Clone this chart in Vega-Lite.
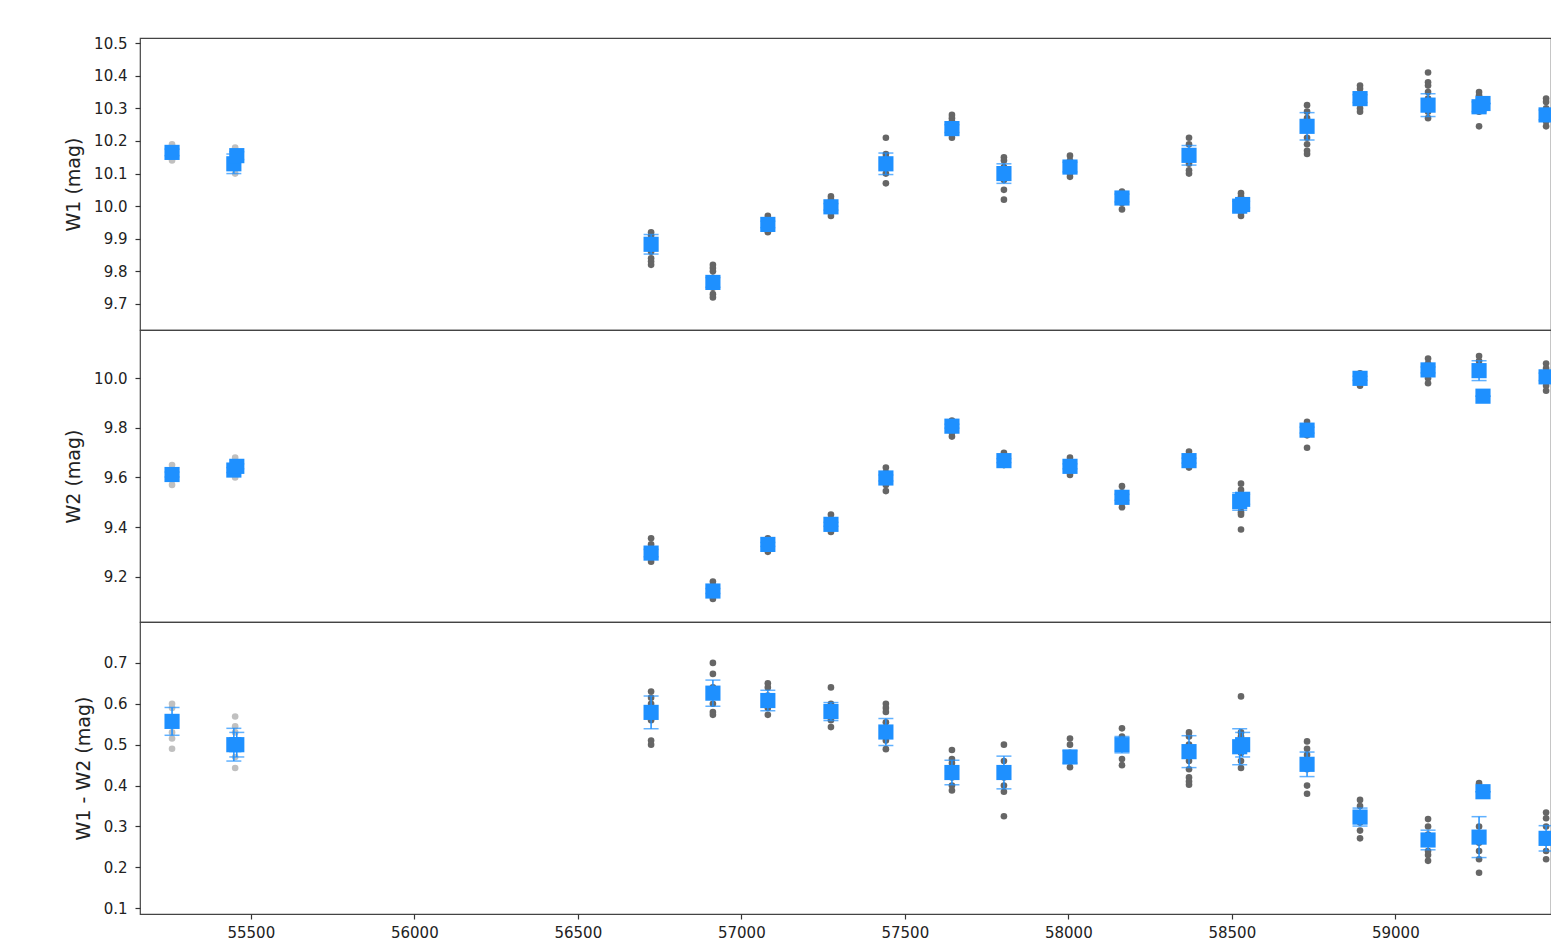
{
"$schema": "https://vega.github.io/schema/vega-lite/v6.json",
"padding": {"left": 64, "top": 35, "right": 0, "bottom": 4},
"spacing": 0,
"bounds": "flush",
"background": "white",
"config": {
  "view": {"stroke": "#444444", "strokeWidth": 1.2},
  "axis": {"labelFont": "DejaVu Sans", "labelFontSize": 15, "labelColor": "#222222", "titleFont": "DejaVu Sans", "titleFontSize": 19, "titleFontWeight": "normal", "titleColor": "#222222", "tickColor": "#333333", "tickSize": 5, "tickWidth": 1.2, "domain": false, "grid": false, "labelPadding": 8, "titlePadding": 10, "labelOverlap": false}
},
"datasets": {
"gray": [
{"b":"W1","t":55259,"v":10.19,"c":"old"},{"b":"W1","t":55259,"v":10.18,"c":"old"},{"b":"W1","t":55259,"v":10.17,"c":"old"},{"b":"W1","t":55259,"v":10.16,"c":"old"},{"b":"W1","t":55259,"v":10.15,"c":"old"},{"b":"W1","t":55259,"v":10.14,"c":"old"},
{"b":"W1","t":55452,"v":10.18,"c":"old"},{"b":"W1","t":55452,"v":10.17,"c":"old"},{"b":"W1","t":55452,"v":10.16,"c":"old"},{"b":"W1","t":55452,"v":10.14,"c":"old"},{"b":"W1","t":55452,"v":10.12,"c":"old"},{"b":"W1","t":55452,"v":10.10,"c":"old"},
{"b":"W1","t":56724,"v":9.92,"c":"new"},{"b":"W1","t":56724,"v":9.91,"c":"new"},{"b":"W1","t":56724,"v":9.90,"c":"new"},{"b":"W1","t":56724,"v":9.88,"c":"new"},{"b":"W1","t":56724,"v":9.86,"c":"new"},{"b":"W1","t":56724,"v":9.84,"c":"new"},{"b":"W1","t":56724,"v":9.83,"c":"new"},{"b":"W1","t":56724,"v":9.82,"c":"new"},
{"b":"W1","t":56913,"v":9.82,"c":"new"},{"b":"W1","t":56913,"v":9.81,"c":"new"},{"b":"W1","t":56913,"v":9.80,"c":"new"},{"b":"W1","t":56913,"v":9.78,"c":"new"},{"b":"W1","t":56913,"v":9.75,"c":"new"},{"b":"W1","t":56913,"v":9.73,"c":"new"},{"b":"W1","t":56913,"v":9.72,"c":"new"},
{"b":"W1","t":57081,"v":9.97,"c":"new"},{"b":"W1","t":57081,"v":9.96,"c":"new"},{"b":"W1","t":57081,"v":9.95,"c":"new"},{"b":"W1","t":57081,"v":9.93,"c":"new"},{"b":"W1","t":57081,"v":9.92,"c":"new"},
{"b":"W1","t":57274,"v":10.03,"c":"new"},{"b":"W1","t":57274,"v":10.02,"c":"new"},{"b":"W1","t":57274,"v":10.0,"c":"new"},{"b":"W1","t":57274,"v":9.98,"c":"new"},{"b":"W1","t":57274,"v":9.97,"c":"new"},
{"b":"W1","t":57442,"v":10.21,"c":"new"},{"b":"W1","t":57442,"v":10.16,"c":"new"},{"b":"W1","t":57442,"v":10.15,"c":"new"},{"b":"W1","t":57442,"v":10.13,"c":"new"},{"b":"W1","t":57442,"v":10.12,"c":"new"},{"b":"W1","t":57442,"v":10.10,"c":"new"},{"b":"W1","t":57442,"v":10.07,"c":"new"},
{"b":"W1","t":57644,"v":10.28,"c":"new"},{"b":"W1","t":57644,"v":10.27,"c":"new"},{"b":"W1","t":57644,"v":10.26,"c":"new"},{"b":"W1","t":57644,"v":10.24,"c":"new"},{"b":"W1","t":57644,"v":10.22,"c":"new"},{"b":"W1","t":57644,"v":10.21,"c":"new"},
{"b":"W1","t":57803,"v":10.15,"c":"new"},{"b":"W1","t":57803,"v":10.14,"c":"new"},{"b":"W1","t":57803,"v":10.12,"c":"new"},{"b":"W1","t":57803,"v":10.10,"c":"new"},{"b":"W1","t":57803,"v":10.08,"c":"new"},{"b":"W1","t":57803,"v":10.05,"c":"new"},{"b":"W1","t":57803,"v":10.02,"c":"new"},
{"b":"W1","t":58005,"v":10.155,"c":"new"},{"b":"W1","t":58005,"v":10.14,"c":"new"},{"b":"W1","t":58005,"v":10.12,"c":"new"},{"b":"W1","t":58005,"v":10.10,"c":"new"},{"b":"W1","t":58005,"v":10.09,"c":"new"},
{"b":"W1","t":58164,"v":10.045,"c":"new"},{"b":"W1","t":58164,"v":10.03,"c":"new"},{"b":"W1","t":58164,"v":10.01,"c":"new"},{"b":"W1","t":58164,"v":9.99,"c":"new"},
{"b":"W1","t":58369,"v":10.21,"c":"new"},{"b":"W1","t":58369,"v":10.19,"c":"new"},{"b":"W1","t":58369,"v":10.17,"c":"new"},{"b":"W1","t":58369,"v":10.15,"c":"new"},{"b":"W1","t":58369,"v":10.13,"c":"new"},{"b":"W1","t":58369,"v":10.11,"c":"new"},{"b":"W1","t":58369,"v":10.10,"c":"new"},
{"b":"W1","t":58528,"v":10.04,"c":"new"},{"b":"W1","t":58528,"v":10.03,"c":"new"},{"b":"W1","t":58528,"v":10.02,"c":"new"},{"b":"W1","t":58528,"v":10.0,"c":"new"},{"b":"W1","t":58528,"v":9.98,"c":"new"},{"b":"W1","t":58528,"v":9.97,"c":"new"},
{"b":"W1","t":58730,"v":10.31,"c":"new"},{"b":"W1","t":58730,"v":10.29,"c":"new"},{"b":"W1","t":58730,"v":10.27,"c":"new"},{"b":"W1","t":58730,"v":10.24,"c":"new"},{"b":"W1","t":58730,"v":10.21,"c":"new"},{"b":"W1","t":58730,"v":10.19,"c":"new"},{"b":"W1","t":58730,"v":10.17,"c":"new"},{"b":"W1","t":58730,"v":10.16,"c":"new"},
{"b":"W1","t":58892,"v":10.37,"c":"new"},{"b":"W1","t":58892,"v":10.36,"c":"new"},{"b":"W1","t":58892,"v":10.34,"c":"new"},{"b":"W1","t":58892,"v":10.32,"c":"new"},{"b":"W1","t":58892,"v":10.30,"c":"new"},{"b":"W1","t":58892,"v":10.29,"c":"new"},
{"b":"W1","t":59100,"v":10.41,"c":"new"},{"b":"W1","t":59100,"v":10.38,"c":"new"},{"b":"W1","t":59100,"v":10.37,"c":"new"},{"b":"W1","t":59100,"v":10.35,"c":"new"},{"b":"W1","t":59100,"v":10.33,"c":"new"},{"b":"W1","t":59100,"v":10.31,"c":"new"},{"b":"W1","t":59100,"v":10.29,"c":"new"},{"b":"W1","t":59100,"v":10.27,"c":"new"},
{"b":"W1","t":59256,"v":10.35,"c":"new"},{"b":"W1","t":59256,"v":10.34,"c":"new"},{"b":"W1","t":59256,"v":10.33,"c":"new"},{"b":"W1","t":59256,"v":10.31,"c":"new"},{"b":"W1","t":59256,"v":10.29,"c":"new"},{"b":"W1","t":59256,"v":10.245,"c":"new"},
{"b":"W1","t":59461,"v":10.33,"c":"new"},{"b":"W1","t":59461,"v":10.32,"c":"new"},{"b":"W1","t":59461,"v":10.30,"c":"new"},{"b":"W1","t":59461,"v":10.28,"c":"new"},{"b":"W1","t":59461,"v":10.26,"c":"new"},{"b":"W1","t":59461,"v":10.245,"c":"new"},
{"b":"W2","t":55259,"v":9.65,"c":"old"},{"b":"W2","t":55259,"v":9.63,"c":"old"},{"b":"W2","t":55259,"v":9.61,"c":"old"},{"b":"W2","t":55259,"v":9.59,"c":"old"},{"b":"W2","t":55259,"v":9.57,"c":"old"},
{"b":"W2","t":55452,"v":9.68,"c":"old"},{"b":"W2","t":55452,"v":9.66,"c":"old"},{"b":"W2","t":55452,"v":9.64,"c":"old"},{"b":"W2","t":55452,"v":9.62,"c":"old"},{"b":"W2","t":55452,"v":9.60,"c":"old"},
{"b":"W2","t":56724,"v":9.355,"c":"new"},{"b":"W2","t":56724,"v":9.33,"c":"new"},{"b":"W2","t":56724,"v":9.31,"c":"new"},{"b":"W2","t":56724,"v":9.28,"c":"new"},{"b":"W2","t":56724,"v":9.26,"c":"new"},
{"b":"W2","t":56913,"v":9.18,"c":"new"},{"b":"W2","t":56913,"v":9.165,"c":"new"},{"b":"W2","t":56913,"v":9.14,"c":"new"},{"b":"W2","t":56913,"v":9.12,"c":"new"},{"b":"W2","t":56913,"v":9.11,"c":"new"},
{"b":"W2","t":57081,"v":9.355,"c":"new"},{"b":"W2","t":57081,"v":9.34,"c":"new"},{"b":"W2","t":57081,"v":9.32,"c":"new"},{"b":"W2","t":57081,"v":9.30,"c":"new"},
{"b":"W2","t":57274,"v":9.45,"c":"new"},{"b":"W2","t":57274,"v":9.43,"c":"new"},{"b":"W2","t":57274,"v":9.41,"c":"new"},{"b":"W2","t":57274,"v":9.39,"c":"new"},{"b":"W2","t":57274,"v":9.38,"c":"new"},
{"b":"W2","t":57442,"v":9.64,"c":"new"},{"b":"W2","t":57442,"v":9.62,"c":"new"},{"b":"W2","t":57442,"v":9.60,"c":"new"},{"b":"W2","t":57442,"v":9.57,"c":"new"},{"b":"W2","t":57442,"v":9.545,"c":"new"},
{"b":"W2","t":57644,"v":9.83,"c":"new"},{"b":"W2","t":57644,"v":9.82,"c":"new"},{"b":"W2","t":57644,"v":9.80,"c":"new"},{"b":"W2","t":57644,"v":9.78,"c":"new"},{"b":"W2","t":57644,"v":9.765,"c":"new"},
{"b":"W2","t":57803,"v":9.70,"c":"new"},{"b":"W2","t":57803,"v":9.68,"c":"new"},{"b":"W2","t":57803,"v":9.66,"c":"new"},{"b":"W2","t":57803,"v":9.65,"c":"new"},
{"b":"W2","t":58005,"v":9.68,"c":"new"},{"b":"W2","t":58005,"v":9.66,"c":"new"},{"b":"W2","t":58005,"v":9.64,"c":"new"},{"b":"W2","t":58005,"v":9.62,"c":"new"},{"b":"W2","t":58005,"v":9.61,"c":"new"},
{"b":"W2","t":58164,"v":9.565,"c":"new"},{"b":"W2","t":58164,"v":9.54,"c":"new"},{"b":"W2","t":58164,"v":9.52,"c":"new"},{"b":"W2","t":58164,"v":9.50,"c":"new"},{"b":"W2","t":58164,"v":9.48,"c":"new"},
{"b":"W2","t":58369,"v":9.705,"c":"new"},{"b":"W2","t":58369,"v":9.69,"c":"new"},{"b":"W2","t":58369,"v":9.67,"c":"new"},{"b":"W2","t":58369,"v":9.65,"c":"new"},{"b":"W2","t":58369,"v":9.64,"c":"new"},
{"b":"W2","t":58528,"v":9.575,"c":"new"},{"b":"W2","t":58528,"v":9.55,"c":"new"},{"b":"W2","t":58528,"v":9.52,"c":"new"},{"b":"W2","t":58528,"v":9.50,"c":"new"},{"b":"W2","t":58528,"v":9.48,"c":"new"},{"b":"W2","t":58528,"v":9.46,"c":"new"},{"b":"W2","t":58528,"v":9.45,"c":"new"},{"b":"W2","t":58528,"v":9.39,"c":"new"},
{"b":"W2","t":58730,"v":9.825,"c":"new"},{"b":"W2","t":58730,"v":9.81,"c":"new"},{"b":"W2","t":58730,"v":9.79,"c":"new"},{"b":"W2","t":58730,"v":9.77,"c":"new"},{"b":"W2","t":58730,"v":9.72,"c":"new"},
{"b":"W2","t":58892,"v":10.02,"c":"new"},{"b":"W2","t":58892,"v":10.01,"c":"new"},{"b":"W2","t":58892,"v":9.99,"c":"new"},{"b":"W2","t":58892,"v":9.97,"c":"new"},
{"b":"W2","t":59100,"v":10.08,"c":"new"},{"b":"W2","t":59100,"v":10.06,"c":"new"},{"b":"W2","t":59100,"v":10.04,"c":"new"},{"b":"W2","t":59100,"v":10.02,"c":"new"},{"b":"W2","t":59100,"v":10.0,"c":"new"},{"b":"W2","t":59100,"v":9.98,"c":"new"},
{"b":"W2","t":59256,"v":10.09,"c":"new"},{"b":"W2","t":59256,"v":10.07,"c":"new"},{"b":"W2","t":59256,"v":10.05,"c":"new"},{"b":"W2","t":59256,"v":10.03,"c":"new"},{"b":"W2","t":59256,"v":10.02,"c":"new"},
{"b":"W2","t":59461,"v":10.06,"c":"new"},{"b":"W2","t":59461,"v":10.04,"c":"new"},{"b":"W2","t":59461,"v":10.02,"c":"new"},{"b":"W2","t":59461,"v":9.99,"c":"new"},{"b":"W2","t":59461,"v":9.97,"c":"new"},{"b":"W2","t":59461,"v":9.95,"c":"new"},
{"b":"C","t":55259,"v":0.60,"c":"old"},{"b":"C","t":55259,"v":0.59,"c":"old"},{"b":"C","t":55259,"v":0.56,"c":"old"},{"b":"C","t":55259,"v":0.53,"c":"old"},{"b":"C","t":55259,"v":0.515,"c":"old"},{"b":"C","t":55259,"v":0.49,"c":"old"},
{"b":"C","t":55452,"v":0.569,"c":"old"},{"b":"C","t":55452,"v":0.545,"c":"old"},{"b":"C","t":55452,"v":0.53,"c":"old"},{"b":"C","t":55452,"v":0.49,"c":"old"},{"b":"C","t":55452,"v":0.47,"c":"old"},{"b":"C","t":55452,"v":0.443,"c":"old"},
{"b":"C","t":56724,"v":0.63,"c":"new"},{"b":"C","t":56724,"v":0.615,"c":"new"},{"b":"C","t":56724,"v":0.60,"c":"new"},{"b":"C","t":56724,"v":0.575,"c":"new"},{"b":"C","t":56724,"v":0.56,"c":"new"},{"b":"C","t":56724,"v":0.51,"c":"new"},{"b":"C","t":56724,"v":0.50,"c":"new"},
{"b":"C","t":56913,"v":0.70,"c":"new"},{"b":"C","t":56913,"v":0.673,"c":"new"},{"b":"C","t":56913,"v":0.64,"c":"new"},{"b":"C","t":56913,"v":0.62,"c":"new"},{"b":"C","t":56913,"v":0.60,"c":"new"},{"b":"C","t":56913,"v":0.58,"c":"new"},{"b":"C","t":56913,"v":0.573,"c":"new"},
{"b":"C","t":57081,"v":0.65,"c":"new"},{"b":"C","t":57081,"v":0.64,"c":"new"},{"b":"C","t":57081,"v":0.62,"c":"new"},{"b":"C","t":57081,"v":0.60,"c":"new"},{"b":"C","t":57081,"v":0.59,"c":"new"},{"b":"C","t":57081,"v":0.573,"c":"new"},
{"b":"C","t":57274,"v":0.64,"c":"new"},{"b":"C","t":57274,"v":0.60,"c":"new"},{"b":"C","t":57274,"v":0.59,"c":"new"},{"b":"C","t":57274,"v":0.57,"c":"new"},{"b":"C","t":57274,"v":0.56,"c":"new"},{"b":"C","t":57274,"v":0.543,"c":"new"},
{"b":"C","t":57442,"v":0.60,"c":"new"},{"b":"C","t":57442,"v":0.59,"c":"new"},{"b":"C","t":57442,"v":0.58,"c":"new"},{"b":"C","t":57442,"v":0.555,"c":"new"},{"b":"C","t":57442,"v":0.52,"c":"new"},{"b":"C","t":57442,"v":0.51,"c":"new"},{"b":"C","t":57442,"v":0.489,"c":"new"},
{"b":"C","t":57644,"v":0.487,"c":"new"},{"b":"C","t":57644,"v":0.465,"c":"new"},{"b":"C","t":57644,"v":0.455,"c":"new"},{"b":"C","t":57644,"v":0.44,"c":"new"},{"b":"C","t":57644,"v":0.42,"c":"new"},{"b":"C","t":57644,"v":0.40,"c":"new"},{"b":"C","t":57644,"v":0.388,"c":"new"},
{"b":"C","t":57803,"v":0.50,"c":"new"},{"b":"C","t":57803,"v":0.46,"c":"new"},{"b":"C","t":57803,"v":0.44,"c":"new"},{"b":"C","t":57803,"v":0.42,"c":"new"},{"b":"C","t":57803,"v":0.40,"c":"new"},{"b":"C","t":57803,"v":0.385,"c":"new"},{"b":"C","t":57803,"v":0.325,"c":"new"},
{"b":"C","t":58005,"v":0.515,"c":"new"},{"b":"C","t":58005,"v":0.50,"c":"new"},{"b":"C","t":58005,"v":0.48,"c":"new"},{"b":"C","t":58005,"v":0.46,"c":"new"},{"b":"C","t":58005,"v":0.445,"c":"new"},
{"b":"C","t":58164,"v":0.54,"c":"new"},{"b":"C","t":58164,"v":0.52,"c":"new"},{"b":"C","t":58164,"v":0.51,"c":"new"},{"b":"C","t":58164,"v":0.49,"c":"new"},{"b":"C","t":58164,"v":0.465,"c":"new"},{"b":"C","t":58164,"v":0.45,"c":"new"},
{"b":"C","t":58369,"v":0.53,"c":"new"},{"b":"C","t":58369,"v":0.52,"c":"new"},{"b":"C","t":58369,"v":0.50,"c":"new"},{"b":"C","t":58369,"v":0.48,"c":"new"},{"b":"C","t":58369,"v":0.46,"c":"new"},{"b":"C","t":58369,"v":0.44,"c":"new"},{"b":"C","t":58369,"v":0.42,"c":"new"},{"b":"C","t":58369,"v":0.41,"c":"new"},{"b":"C","t":58369,"v":0.402,"c":"new"},
{"b":"C","t":58528,"v":0.618,"c":"new"},{"b":"C","t":58528,"v":0.53,"c":"new"},{"b":"C","t":58528,"v":0.52,"c":"new"},{"b":"C","t":58528,"v":0.50,"c":"new"},{"b":"C","t":58528,"v":0.48,"c":"new"},{"b":"C","t":58528,"v":0.46,"c":"new"},{"b":"C","t":58528,"v":0.443,"c":"new"},
{"b":"C","t":58730,"v":0.508,"c":"new"},{"b":"C","t":58730,"v":0.49,"c":"new"},{"b":"C","t":58730,"v":0.475,"c":"new"},{"b":"C","t":58730,"v":0.44,"c":"new"},{"b":"C","t":58730,"v":0.40,"c":"new"},{"b":"C","t":58730,"v":0.38,"c":"new"},
{"b":"C","t":58892,"v":0.365,"c":"new"},{"b":"C","t":58892,"v":0.35,"c":"new"},{"b":"C","t":58892,"v":0.33,"c":"new"},{"b":"C","t":58892,"v":0.31,"c":"new"},{"b":"C","t":58892,"v":0.29,"c":"new"},{"b":"C","t":58892,"v":0.271,"c":"new"},
{"b":"C","t":59100,"v":0.318,"c":"new"},{"b":"C","t":59100,"v":0.30,"c":"new"},{"b":"C","t":59100,"v":0.28,"c":"new"},{"b":"C","t":59100,"v":0.26,"c":"new"},{"b":"C","t":59100,"v":0.24,"c":"new"},{"b":"C","t":59100,"v":0.23,"c":"new"},{"b":"C","t":59100,"v":0.216,"c":"new"},
{"b":"C","t":59256,"v":0.406,"c":"new"},{"b":"C","t":59256,"v":0.30,"c":"new"},{"b":"C","t":59256,"v":0.28,"c":"new"},{"b":"C","t":59256,"v":0.26,"c":"new"},{"b":"C","t":59256,"v":0.24,"c":"new"},{"b":"C","t":59256,"v":0.22,"c":"new"},{"b":"C","t":59256,"v":0.187,"c":"new"},
{"b":"C","t":59461,"v":0.334,"c":"new"},{"b":"C","t":59461,"v":0.32,"c":"new"},{"b":"C","t":59461,"v":0.30,"c":"new"},{"b":"C","t":59461,"v":0.28,"c":"new"},{"b":"C","t":59461,"v":0.26,"c":"new"},{"b":"C","t":59461,"v":0.24,"c":"new"},{"b":"C","t":59461,"v":0.22,"c":"new"}
],
"blue": [
{"b":"W1","t":55259,"v":10.165,"e":0.01},{"b":"W1","t":55448,"v":10.13,"e":0.03},{"b":"W1","t":55457,"v":10.155,"e":0.012},{"b":"W1","t":56724,"v":9.883,"e":0.03},{"b":"W1","t":56913,"v":9.766,"e":0.015},{"b":"W1","t":57081,"v":9.944,"e":0.01},{"b":"W1","t":57274,"v":9.998,"e":0.01},{"b":"W1","t":57442,"v":10.13,"e":0.033},{"b":"W1","t":57644,"v":10.238,"e":0.012},{"b":"W1","t":57803,"v":10.1,"e":0.03},{"b":"W1","t":58005,"v":10.12,"e":0.015},{"b":"W1","t":58164,"v":10.025,"e":0.012},{"b":"W1","t":58369,"v":10.156,"e":0.03},{"b":"W1","t":58524,"v":10.0,"e":0.015},{"b":"W1","t":58533,"v":10.005,"e":0.01},{"b":"W1","t":58730,"v":10.245,"e":0.042},{"b":"W1","t":58892,"v":10.33,"e":0.012},{"b":"W1","t":59100,"v":10.31,"e":0.035},{"b":"W1","t":59256,"v":10.305,"e":0.015},{"b":"W1","t":59268,"v":10.315,"e":0.0},{"b":"W1","t":59461,"v":10.28,"e":0.015},
{"b":"W2","t":55259,"v":9.612,"e":0.01},{"b":"W2","t":55448,"v":9.63,"e":0.01},{"b":"W2","t":55457,"v":9.645,"e":0.01},{"b":"W2","t":56724,"v":9.295,"e":0.015},{"b":"W2","t":56913,"v":9.142,"e":0.01},{"b":"W2","t":57081,"v":9.33,"e":0.008},{"b":"W2","t":57274,"v":9.411,"e":0.008},{"b":"W2","t":57442,"v":9.598,"e":0.012},{"b":"W2","t":57644,"v":9.807,"e":0.008},{"b":"W2","t":57803,"v":9.668,"e":0.008},{"b":"W2","t":58005,"v":9.645,"e":0.01},{"b":"W2","t":58164,"v":9.52,"e":0.012},{"b":"W2","t":58369,"v":9.668,"e":0.01},{"b":"W2","t":58524,"v":9.503,"e":0.035},{"b":"W2","t":58533,"v":9.512,"e":0.02},{"b":"W2","t":58730,"v":9.791,"e":0.012},{"b":"W2","t":58892,"v":10.0,"e":0.008},{"b":"W2","t":59100,"v":10.034,"e":0.012},{"b":"W2","t":59256,"v":10.031,"e":0.04},{"b":"W2","t":59268,"v":9.928,"e":0.0},{"b":"W2","t":59461,"v":10.006,"e":0.015},
{"b":"C","t":55259,"v":0.557,"e":0.034},{"b":"C","t":55448,"v":0.5,"e":0.04},{"b":"C","t":55457,"v":0.5,"e":0.03},{"b":"C","t":56724,"v":0.579,"e":0.04},{"b":"C","t":56913,"v":0.626,"e":0.032},{"b":"C","t":57081,"v":0.608,"e":0.025},{"b":"C","t":57274,"v":0.581,"e":0.022},{"b":"C","t":57442,"v":0.531,"e":0.033},{"b":"C","t":57644,"v":0.432,"e":0.03},{"b":"C","t":57803,"v":0.432,"e":0.04},{"b":"C","t":58005,"v":0.47,"e":0.015},{"b":"C","t":58164,"v":0.5,"e":0.02},{"b":"C","t":58369,"v":0.483,"e":0.039},{"b":"C","t":58524,"v":0.495,"e":0.044},{"b":"C","t":58533,"v":0.5,"e":0.03},{"b":"C","t":58730,"v":0.452,"e":0.03},{"b":"C","t":58892,"v":0.323,"e":0.022},{"b":"C","t":59100,"v":0.267,"e":0.024},{"b":"C","t":59256,"v":0.274,"e":0.05},{"b":"C","t":59268,"v":0.385,"e":0.0},{"b":"C","t":59461,"v":0.271,"e":0.031}
]
},
"vconcat": [
{
"width": 1411, "height": 292,
"layer": [
{"data": {"name": "gray"}, "transform": [{"filter": "datum.b === 'W1'"}],
 "mark": {"type": "circle", "size": 44, "opacity": 1, "clip": true},
 "encoding": {
  "x": {"field": "t", "type": "quantitative", "scale": {"domain": [55161, 59476], "nice": false, "zero": false}, "axis": null},
  "y": {"field": "v", "type": "quantitative", "scale": {"domain": [9.62, 10.516], "nice": false, "zero": false}, "axis": {"title": "W1 (mag)", "values": [9.7, 9.8, 9.9, 10.0, 10.1, 10.2, 10.3, 10.4, 10.5], "tickCount": 30, "format": ".1f", "labelOverlap": false}},
  "color": {"field": "c", "type": "nominal", "scale": {"domain": ["old", "new"], "range": ["#c0c0c0", "#666666"]}, "legend": null}}},
{"data": {"name": "blue"}, "transform": [{"filter": "datum.b === 'W1'"}],
 "mark": {"type": "errorbar", "ticks": {"size": 15, "thickness": 1.5}, "thickness": 1.5, "color": "#1E90FF", "clip": true},
 "encoding": {
  "x": {"field": "t", "type": "quantitative", "axis": null},
  "y": {"field": "v", "type": "quantitative", "title": "W1 (mag)"},
  "yError": {"field": "e"}}},
{"data": {"name": "blue"}, "transform": [{"filter": "datum.b === 'W1'"}],
 "mark": {"type": "point", "shape": "square", "filled": true, "size": 230, "color": "#1E90FF", "opacity": 1, "clip": true},
 "encoding": {
  "x": {"field": "t", "type": "quantitative", "axis": null},
  "y": {"field": "v", "type": "quantitative", "title": "W1 (mag)"}}}
]
},
{
"width": 1411, "height": 292,
"layer": [
{"data": {"name": "gray"}, "transform": [{"filter": "datum.b === 'W2'"}],
 "mark": {"type": "circle", "size": 44, "opacity": 1, "clip": true},
 "encoding": {
  "x": {"field": "t", "type": "quantitative", "scale": {"domain": [55161, 59476], "nice": false, "zero": false}, "axis": null},
  "y": {"field": "v", "type": "quantitative", "scale": {"domain": [9.017, 10.195], "nice": false, "zero": false}, "axis": {"title": "W2 (mag)", "values": [9.2, 9.4, 9.6, 9.8, 10.0], "tickCount": 30, "format": ".1f", "labelOverlap": false}},
  "color": {"field": "c", "type": "nominal", "scale": {"domain": ["old", "new"], "range": ["#c0c0c0", "#666666"]}, "legend": null}}},
{"data": {"name": "blue"}, "transform": [{"filter": "datum.b === 'W2'"}],
 "mark": {"type": "errorbar", "ticks": {"size": 15, "thickness": 1.5}, "thickness": 1.5, "color": "#1E90FF", "clip": true},
 "encoding": {
  "x": {"field": "t", "type": "quantitative", "axis": null},
  "y": {"field": "v", "type": "quantitative", "title": "W2 (mag)"},
  "yError": {"field": "e"}}},
{"data": {"name": "blue"}, "transform": [{"filter": "datum.b === 'W2'"}],
 "mark": {"type": "point", "shape": "square", "filled": true, "size": 230, "color": "#1E90FF", "opacity": 1, "clip": true},
 "encoding": {
  "x": {"field": "t", "type": "quantitative", "axis": null},
  "y": {"field": "v", "type": "quantitative", "title": "W2 (mag)"}}}
]
},
{
"width": 1411, "height": 292,
"layer": [
{"data": {"name": "gray"}, "transform": [{"filter": "datum.b === 'C'"}],
 "mark": {"type": "circle", "size": 44, "opacity": 1, "clip": true},
 "encoding": {
  "x": {"field": "t", "type": "quantitative", "scale": {"domain": [55161, 59476], "nice": false, "zero": false}, "axis": {"title": null, "values": [55500, 56000, 56500, 57000, 57500, 58000, 58500, 59000], "tickCount": 30, "format": "d", "labelPadding": 6, "labelFlush": false}},
  "y": {"field": "v", "type": "quantitative", "scale": {"domain": [0.086, 0.8], "nice": false, "zero": false}, "axis": {"title": "W1 - W2 (mag)", "values": [0.1, 0.2, 0.3, 0.4, 0.5, 0.6, 0.7], "tickCount": 30, "format": ".1f", "labelOverlap": false}},
  "color": {"field": "c", "type": "nominal", "scale": {"domain": ["old", "new"], "range": ["#c0c0c0", "#666666"]}, "legend": null}}},
{"data": {"name": "blue"}, "transform": [{"filter": "datum.b === 'C'"}],
 "mark": {"type": "errorbar", "ticks": {"size": 15, "thickness": 1.5}, "thickness": 1.5, "color": "#1E90FF", "clip": true},
 "encoding": {
  "x": {"field": "t", "type": "quantitative", "title": null},
  "y": {"field": "v", "type": "quantitative", "title": "W1 - W2 (mag)"},
  "yError": {"field": "e"}}},
{"data": {"name": "blue"}, "transform": [{"filter": "datum.b === 'C'"}],
 "mark": {"type": "point", "shape": "square", "filled": true, "size": 230, "color": "#1E90FF", "opacity": 1, "clip": true},
 "encoding": {
  "x": {"field": "t", "type": "quantitative", "title": null},
  "y": {"field": "v", "type": "quantitative", "title": "W1 - W2 (mag)"}}}
]
}
]
}
